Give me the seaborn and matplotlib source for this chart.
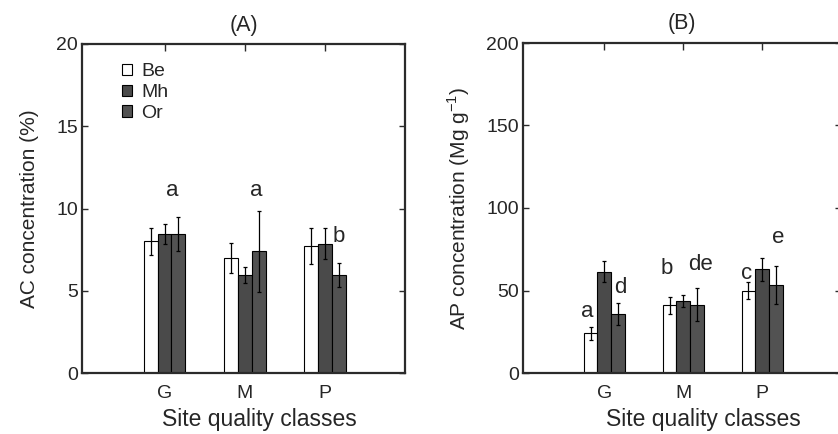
import matplotlib
matplotlib.use("Agg")
import matplotlib.pyplot as plt
from matplotlib.patches import Patch
import seaborn as sns
import pandas as pd

sns.set_style("ticks")
plt.rcParams["font.family"] = ["Liberation Sans", "DejaVu Sans"]
plt.rcParams["font.size"] = 12

classes = ["G", "M", "P"]
species = ["Be", "Mh", "Or"]

# AC concentration (%)
ac_be = [8.0, 7.0, 7.7]
ac_mh = [8.45, 5.95, 7.85]
ac_or = [8.45, 7.4, 5.95]
ac_be_err = [0.8, 0.9, 1.1]
ac_mh_err = [0.6, 0.5, 0.95]
ac_or_err = [1.05, 2.45, 0.75]

# AP concentration
ap_be = [24, 41, 50]
ap_mh = [61.5, 43.5, 63]
ap_or = [35.7, 41.5, 53.5]
ap_be_err = [4, 5, 5]
ap_mh_err = [6.5, 3.5, 7]
ap_or_err = [6.5, 10, 11.5]

ac_letters = [("a", 0.09, 11.1), ("a", 1.14, 11.1), ("b", 2.17, 8.3)]
ap_letters = [("a", -0.22, 37), ("d", 0.2, 52), ("b", 0.79, 63.5),
              ("de", 1.225, 65.5), ("c", 1.8, 60.5), ("e", 2.21, 82)]

colors = {"Be": "white", "Mh": "#4a4a4a", "Or": "#525252"}
SPINE = "#2b2b2b"


def make_df(be, mh, or_):
    rows = []
    for sp, vals in zip(species, [be, mh, or_]):
        for c, v in zip(classes, vals):
            rows.append({"site": c, "species": sp, "value": v})
    return pd.DataFrame(rows)


def draw_panel(ax, df, errs, ymax, letters, xlab_x):
    sns.barplot(data=df, x="site", y="value", hue="species", order=classes,
                hue_order=species, palette=colors, width=0.52, errorbar=None,
                edgecolor="black", linewidth=0.8, legend=False, ax=ax, zorder=2)
    for cont, sp, err in zip(ax.containers, species, errs):
        xs = [p.get_x() + p.get_width() / 2 for p in cont]
        ys = [p.get_height() for p in cont]
        ax.errorbar(xs, ys, yerr=err, fmt="none", ecolor="black",
                    elinewidth=0.9, capsize=1.5, capthick=0.9, zorder=3)
    for txt, x, y in letters:
        ax.text(x, y, txt, ha="center", va="center", fontsize=16)
    ax.set_xlim(-1.03, 3.0)
    ax.set_ylim(0, ymax)
    ax.set_yticks([ymax * i / 4 for i in range(5)])
    ax.tick_params(axis="x", direction="in", bottom=False, top=True,
                   length=5, width=1, color=SPINE, labelsize=14, pad=9)
    ax.tick_params(axis="y", direction="in", left=True, right=True,
                   length=4, width=1, color=SPINE, labelsize=14, pad=3)
    for s in ax.spines.values():
        s.set_linewidth(1.6)
        s.set_color(SPINE)
    ax.set_xlabel("Site quality classes", fontsize=16.5, labelpad=4)
    ax.xaxis.set_label_coords(xlab_x, -0.105, transform=ax.transAxes)
    ax.xaxis.label.set_verticalalignment("top")


fig = plt.figure(figsize=(8.38, 4.34), dpi=100)
ax1 = fig.add_axes([82 / 838, 1 - 373 / 434, 323 / 838, 329 / 434])
ax2 = fig.add_axes([523 / 838, 1 - 373 / 434, 318 / 838, 330 / 434])

draw_panel(ax1, make_df(ac_be, ac_mh, ac_or),
           [ac_be_err, ac_mh_err, ac_or_err], 20, ac_letters, 0.55)
ax1.set_yticklabels(["0", "5", "10", "15", "20"])
ax1.set_ylabel("AC concentration (%)", fontsize=15, labelpad=12)
ax1.set_title("(A)", fontsize=15.5, pad=9)

handles = [Patch(facecolor=colors[s], edgecolor="black", linewidth=0.8, label=s)
           for s in species]
ax1.legend(handles=handles, loc="upper left", bbox_to_anchor=(0.07, 0.995),
           frameon=False, handlelength=0.5, handleheight=0.5, handletextpad=0.5,
           labelspacing=0.2, fontsize=14)

draw_panel(ax2, make_df(ap_be, ap_mh, ap_or),
           [ap_be_err, ap_mh_err, ap_or_err], 200, ap_letters, 0.566)
ax2.set_yticklabels(["0", "50", "100", "150", "200"])
ax2.set_ylabel("AP concentration (Mg g$^{\\mathregular{-1}}$)", fontsize=15, labelpad=10)
ax2.set_title("(B)", fontsize=15.5, pad=10)

fig.savefig("out.png", dpi=100, facecolor="white")
